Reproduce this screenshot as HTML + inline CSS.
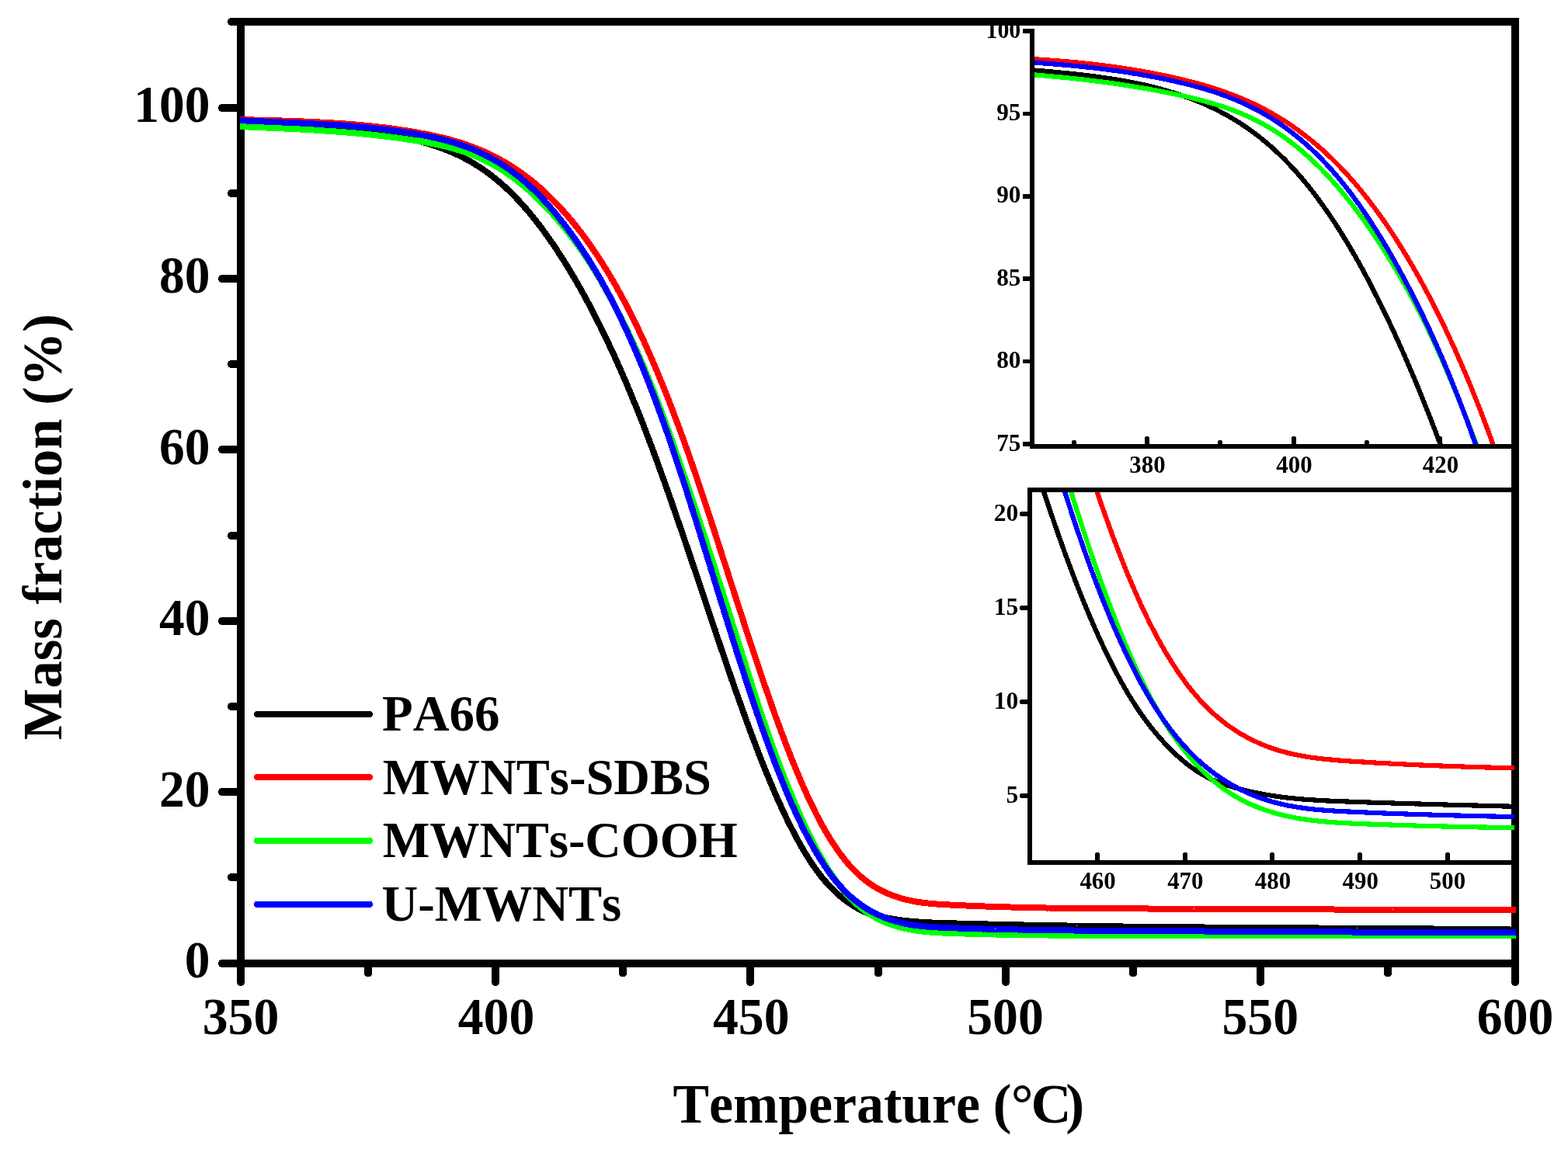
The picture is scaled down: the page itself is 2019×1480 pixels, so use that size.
<!DOCTYPE html>
<html lang="en"><head><meta charset="utf-8"><title>TGA curves: mass fraction vs temperature</title>
<style>html,body{margin:0;padding:0;background:#fff;}body{width:2019px;height:1480px;}svg{display:block;}text{font-family:"Liberation Serif","Noto Serif CJK SC",serif;font-weight:bold;fill:#000;font-kerning:none;}</style></head><body>
<svg width="2019" height="1480" viewBox="0 0 2019 1480">
<rect x="0" y="0" width="2019" height="1480" fill="#ffffff"/>
<defs>
<clipPath id="cm"><rect x="309" y="33" width="1643" height="1203"/></clipPath>
<clipPath id="c1"><rect x="1332" y="33" width="618" height="539"/></clipPath>
<clipPath id="c2"><rect x="1329" y="634" width="621" height="474"/></clipPath>
</defs>
<g id="main-frame" stroke="#000" stroke-width="10" fill="none" stroke-linecap="round" shape-rendering="crispEdges">
<path d="M310 28 V1265"/>
<path d="M1951 28 V1265"/>
<path d="M286 1241 H1951"/>
<path d="M298 28 H1951"/>
<path d="M310 139 H286 M310 359 H286 M310 579 H286 M310 800 H286 M310 1020 H286 M310 249 H298 M310 469 H298 M310 690 H298 M310 910 H298 M310 1130 H298 M638 1241 V1265 M966 1241 V1265 M1295 1241 V1265 M1623 1241 V1265 M474 1241 V1253.6 M802 1241 V1253.6 M1131 1241 V1253.6 M1459 1241 V1253.6 M1787 1241 V1253.6"/>
</g>
<rect x="1946" y="23" width="10" height="10" fill="#000" shape-rendering="crispEdges"/>
<g id="main-curves" fill="none" stroke-width="8" stroke-linejoin="round" clip-path="url(#cm)" shape-rendering="crispEdges">
<polyline stroke="#000000" points="306.7,155.3 310,155.8 313.3,156.3 316.6,156.7 319.8,157.2 323.1,157.6 326.4,158 329.7,158.4 333,158.8 336.3,159.1 339.5,159.5 342.8,159.8 346.1,160.1 349.4,160.4 352.7,160.7 355.9,161 359.2,161.3 362.5,161.6 365.8,161.8 369.1,162.1 372.4,162.3 375.6,162.6 378.9,162.8 382.2,163 385.5,163.2 388.8,163.5 392.1,163.7 395.3,163.9 398.6,164.1 401.9,164.3 405.2,164.5 408.5,164.8 411.7,165 415,165.2 418.3,165.4 421.6,165.6 424.9,165.9 428.2,166.1 431.4,166.3 434.7,166.6 438,166.8 441.3,167.1 444.6,167.3 447.8,167.6 451.1,167.9 454.4,168.2 457.7,168.5 461,168.8 464.3,169.1 467.5,169.5 470.8,169.8 474.1,170.2 477.4,170.6 480.7,171 483.9,171.4 487.2,171.8 490.5,172.3 493.8,172.7 497.1,173.2 500.4,173.8 503.6,174.3 506.9,174.8 510.2,175.4 513.5,176 516.8,176.7 520,177.3 523.3,178 526.6,178.7 529.9,179.5 533.2,180.2 536.5,181 539.7,181.9 543,182.7 546.3,183.6 549.6,184.6 552.9,185.5 556.1,186.5 559.4,187.6 562.7,188.7 566,189.8 569.3,191 572.6,192.3 575.8,193.6 579.1,194.9 582.4,196.3 585.7,197.8 589,199.3 592.3,200.9 595.5,202.5 598.8,204.2 602.1,206 605.4,207.8 608.7,209.7 611.9,211.7 615.2,213.8 618.5,215.9 621.8,218.1 625.1,220.4 628.4,222.8 631.6,225.2 634.9,227.8 638.2,230.4 641.5,233.1 644.8,235.9 648,238.8 651.3,241.8 654.6,244.9 657.9,248.1 661.2,251.4 664.5,254.8 667.7,258.2 671,261.8 674.3,265.5 677.6,269.2 680.9,273.1 684.1,277 687.4,281.1 690.7,285.2 694,289.5 697.3,293.8 700.6,298.3 703.8,302.8 707.1,307.4 710.4,312.1 713.7,316.9 717,321.9 720.2,326.9 723.5,332 726.8,337.2 730.1,342.5 733.4,347.9 736.7,353.4 739.9,358.9 743.2,364.6 746.5,370.4 749.8,376.3 753.1,382.2 756.4,388.3 759.6,394.5 762.9,400.7 766.2,407.1 769.5,413.6 772.8,420.1 776,426.8 779.3,433.6 782.6,440.5 785.9,447.4 789.2,454.5 792.5,461.7 795.7,469 799,476.4 802.3,483.9 805.6,491.5 808.9,499.3 812.1,507.1 815.4,515.1 818.7,523.1 822,531.3 825.3,539.6 828.6,548 831.8,556.5 835.1,565.1 838.4,573.8 841.7,582.6 845,591.5 848.2,600.5 851.5,609.5 854.8,618.7 858.1,627.9 861.4,637.2 864.7,646.5 867.9,656 871.2,665.4 874.5,674.9 877.8,684.5 881.1,694.1 884.4,703.8 887.6,713.4 890.9,723.2 894.2,732.9 897.5,742.6 900.8,752.4 904,762.2 907.3,772 910.6,781.8 913.9,791.5 917.2,801.3 920.5,811.1 923.7,820.8 927,830.5 930.3,840.2 933.6,849.8 936.9,859.4 940.1,868.9 943.4,878.4 946.7,887.8 950,897.1 953.3,906.4 956.6,915.5 959.8,924.6 963.1,933.6 966.4,942.5 969.7,951.3 973,959.9 976.2,968.5 979.5,976.9 982.8,985.2 986.1,993.4 989.4,1001.4 992.7,1009.3 995.9,1017 999.2,1024.5 1002.5,1031.9 1005.8,1039.1 1009.1,1046.2 1012.3,1053.1 1015.6,1059.8 1018.9,1066.3 1022.2,1072.7 1025.5,1078.9 1028.8,1084.9 1032,1090.7 1035.3,1096.3 1038.6,1101.7 1041.9,1106.9 1045.2,1112 1048.5,1116.8 1051.7,1121.4 1055,1125.8 1058.3,1130 1061.6,1133.9 1064.9,1137.7 1068.1,1141.3 1071.4,1144.7 1074.7,1147.9 1078,1151 1081.3,1153.8 1084.6,1156.6 1087.8,1159.2 1091.1,1161.6 1094.4,1163.9 1097.7,1166.1 1101,1168.1 1104.2,1170 1107.5,1171.7 1110.8,1173.3 1114.1,1174.7 1117.4,1176 1120.7,1177.1 1123.9,1178.1 1127.2,1179 1130.5,1179.8 1133.8,1180.6 1137.1,1181.3 1140.3,1182 1143.6,1182.7 1146.9,1183.3 1150.2,1183.8 1153.5,1184.4 1156.8,1184.8 1160,1185.3 1163.3,1185.7 1166.6,1186.1 1169.9,1186.4 1173.2,1186.7 1176.4,1187 1179.7,1187.3 1183,1187.5 1186.3,1187.8 1189.6,1188 1192.9,1188.1 1196.1,1188.3 1199.4,1188.5 1202.7,1188.6 1206,1188.7 1209.3,1188.8 1212.5,1188.9 1215.8,1189 1219.1,1189.1 1222.4,1189.2 1225.7,1189.3 1229,1189.4 1232.2,1189.5 1235.5,1189.6 1238.8,1189.7 1242.1,1189.7 1245.4,1189.8 1248.7,1189.9 1251.9,1190 1255.2,1190.1 1258.5,1190.2 1261.8,1190.2 1265.1,1190.3 1268.3,1190.4 1271.6,1190.5 1274.9,1190.5 1278.2,1190.6 1281.5,1190.7 1284.8,1190.8 1288,1190.8 1291.3,1190.9 1294.6,1191 1297.9,1191.1 1301.2,1191.1 1304.4,1191.2 1307.7,1191.3 1311,1191.3 1314.3,1191.4 1317.6,1191.5 1320.9,1191.5 1324.1,1191.6 1327.4,1191.7 1330.7,1191.7 1334,1191.8 1337.3,1191.8 1340.5,1191.9 1343.8,1192 1347.1,1192 1350.4,1192.1 1353.7,1192.1 1357,1192.2 1360.2,1192.2 1363.5,1192.3 1366.8,1192.3 1370.1,1192.4 1373.4,1192.5 1376.7,1192.5 1379.9,1192.6 1383.2,1192.6 1386.5,1192.7 1389.8,1192.7 1393.1,1192.8 1396.3,1192.8 1399.6,1192.8 1402.9,1192.9 1406.2,1192.9 1409.5,1193 1412.8,1193 1416,1193.1 1419.3,1193.1 1422.6,1193.2 1425.9,1193.2 1429.2,1193.2 1432.4,1193.3 1435.7,1193.3 1439,1193.4 1442.3,1193.4 1445.6,1193.5 1448.9,1193.5 1452.1,1193.5 1455.4,1193.6 1458.7,1193.6 1462,1193.6 1465.3,1193.7 1468.5,1193.7 1471.8,1193.7 1475.1,1193.8 1478.4,1193.8 1481.7,1193.9 1485,1193.9 1488.2,1193.9 1491.5,1194 1494.8,1194 1498.1,1194 1501.4,1194 1504.6,1194.1 1507.9,1194.1 1511.2,1194.1 1514.5,1194.2 1517.8,1194.2 1521.1,1194.2 1524.3,1194.3 1527.6,1194.3 1530.9,1194.3 1534.2,1194.3 1537.5,1194.4 1540.8,1194.4 1544,1194.4 1547.3,1194.4 1550.6,1194.5 1553.9,1194.5 1557.2,1194.5 1560.4,1194.6 1563.7,1194.6 1567,1194.6 1570.3,1194.6 1573.6,1194.7 1576.9,1194.7 1580.1,1194.7 1583.4,1194.7 1586.7,1194.7 1590,1194.8 1593.3,1194.8 1596.5,1194.8 1599.8,1194.8 1603.1,1194.9 1606.4,1194.9 1609.7,1194.9 1613,1194.9 1616.2,1194.9 1619.5,1195 1622.8,1195 1626.1,1195 1629.4,1195 1632.6,1195.1 1635.9,1195.1 1639.2,1195.1 1642.5,1195.1 1645.8,1195.1 1649.1,1195.2 1652.3,1195.2 1655.6,1195.2 1658.9,1195.2 1662.2,1195.2 1665.5,1195.3 1668.7,1195.3 1672,1195.3 1675.3,1195.3 1678.6,1195.3 1681.9,1195.4 1685.2,1195.4 1688.4,1195.4 1691.7,1195.4 1695,1195.4 1698.3,1195.5 1701.6,1195.5 1704.8,1195.5 1708.1,1195.5 1711.4,1195.5 1714.7,1195.6 1718,1195.6 1721.3,1195.6 1724.5,1195.6 1727.8,1195.6 1731.1,1195.7 1734.4,1195.7 1737.7,1195.7 1741,1195.7 1744.2,1195.7 1747.5,1195.8 1750.8,1195.8 1754.1,1195.8 1757.4,1195.8 1760.6,1195.8 1763.9,1195.9 1767.2,1195.9 1770.5,1195.9 1773.8,1195.9 1777.1,1195.9 1780.3,1196 1783.6,1196 1786.9,1196 1790.2,1196 1793.5,1196.1 1796.7,1196.1 1800,1196.1 1803.3,1196.1 1806.6,1196.2 1809.9,1196.2 1813.2,1196.2 1816.4,1196.2 1819.7,1196.3 1823,1196.3 1826.3,1196.3 1829.6,1196.3 1832.8,1196.4 1836.1,1196.4 1839.4,1196.4 1842.7,1196.4 1846,1196.5 1849.3,1196.5 1852.5,1196.5 1855.8,1196.5 1859.1,1196.6 1862.4,1196.6 1865.7,1196.6 1869,1196.7 1872.2,1196.7 1875.5,1196.7 1878.8,1196.8 1882.1,1196.8 1885.4,1196.8 1888.6,1196.9 1891.9,1196.9 1895.2,1196.9 1898.5,1196.9 1901.8,1197 1905.1,1197 1908.3,1197.1 1911.6,1197.1 1914.9,1197.1 1918.2,1197.2 1921.5,1197.2 1924.7,1197.2 1928,1197.3 1931.3,1197.3 1934.6,1197.3 1937.9,1197.4 1941.2,1197.4 1944.4,1197.5 1947.7,1197.5 1951,1197.6 1954.3,1197.6"/>
<polyline stroke="#ff0000" points="306.7,154 310,154 313.3,154.1 316.6,154.2 319.8,154.3 323.1,154.4 326.4,154.5 329.7,154.6 333,154.7 336.3,154.8 339.5,154.9 342.8,155 346.1,155 349.4,155.1 352.7,155.2 355.9,155.3 359.2,155.4 362.5,155.5 365.8,155.6 369.1,155.7 372.4,155.9 375.6,156 378.9,156.1 382.2,156.2 385.5,156.3 388.8,156.4 392.1,156.6 395.3,156.7 398.6,156.9 401.9,157 405.2,157.2 408.5,157.3 411.7,157.5 415,157.6 418.3,157.8 421.6,158 424.9,158.2 428.2,158.4 431.4,158.6 434.7,158.8 438,159 441.3,159.3 444.6,159.5 447.8,159.7 451.1,160 454.4,160.3 457.7,160.5 461,160.8 464.3,161.1 467.5,161.4 470.8,161.7 474.1,162 477.4,162.4 480.7,162.7 483.9,163.1 487.2,163.4 490.5,163.8 493.8,164.2 497.1,164.6 500.4,165 503.6,165.4 506.9,165.9 510.2,166.3 513.5,166.8 516.8,167.3 520,167.8 523.3,168.3 526.6,168.8 529.9,169.4 533.2,169.9 536.5,170.5 539.7,171.1 543,171.7 546.3,172.3 549.6,172.9 552.9,173.6 556.1,174.3 559.4,175 562.7,175.7 566,176.5 569.3,177.3 572.6,178.1 575.8,178.9 579.1,179.8 582.4,180.7 585.7,181.6 589,182.6 592.3,183.6 595.5,184.7 598.8,185.8 602.1,186.9 605.4,188.1 608.7,189.3 611.9,190.6 615.2,191.9 618.5,193.2 621.8,194.6 625.1,196.1 628.4,197.6 631.6,199.2 634.9,200.8 638.2,202.4 641.5,204.2 644.8,206 648,207.8 651.3,209.7 654.6,211.7 657.9,213.7 661.2,215.8 664.5,218 667.7,220.2 671,222.5 674.3,224.9 677.6,227.4 680.9,229.9 684.1,232.5 687.4,235.1 690.7,237.9 694,240.7 697.3,243.6 700.6,246.6 703.8,249.7 707.1,252.8 710.4,256.1 713.7,259.4 717,262.8 720.2,266.3 723.5,269.9 726.8,273.5 730.1,277.3 733.4,281.1 736.7,285.1 739.9,289.1 743.2,293.2 746.5,297.5 749.8,301.8 753.1,306.2 756.4,310.7 759.6,315.3 762.9,320 766.2,324.8 769.5,329.7 772.8,334.8 776,339.9 779.3,345.1 782.6,350.5 785.9,356 789.2,361.6 792.5,367.3 795.7,373.2 799,379.1 802.3,385.2 805.6,391.4 808.9,397.8 812.1,404.3 815.4,410.9 818.7,417.6 822,424.4 825.3,431.4 828.6,438.5 831.8,445.7 835.1,453.1 838.4,460.6 841.7,468.2 845,475.9 848.2,483.7 851.5,491.7 854.8,499.8 858.1,508.1 861.4,516.4 864.7,524.9 867.9,533.6 871.2,542.3 874.5,551.2 877.8,560.2 881.1,569.3 884.4,578.5 887.6,587.9 890.9,597.3 894.2,606.9 897.5,616.5 900.8,626.3 904,636.1 907.3,646 910.6,655.9 913.9,665.9 917.2,676 920.5,686.1 923.7,696.2 927,706.4 930.3,716.6 933.6,726.8 936.9,737 940.1,747.2 943.4,757.4 946.7,767.6 950,777.8 953.3,788 956.6,798.1 959.8,808.2 963.1,818.2 966.4,828.2 969.7,838.2 973,848.1 976.2,857.9 979.5,867.6 982.8,877.3 986.1,886.8 989.4,896.3 992.7,905.7 995.9,915 999.2,924.1 1002.5,933.1 1005.8,942 1009.1,950.8 1012.3,959.4 1015.6,967.9 1018.9,976.3 1022.2,984.4 1025.5,992.4 1028.8,1000.3 1032,1007.9 1035.3,1015.4 1038.6,1022.7 1041.9,1029.8 1045.2,1036.7 1048.5,1043.4 1051.7,1049.9 1055,1056.2 1058.3,1062.3 1061.6,1068.2 1064.9,1073.8 1068.1,1079.3 1071.4,1084.5 1074.7,1089.5 1078,1094.3 1081.3,1098.9 1084.6,1103.3 1087.8,1107.5 1091.1,1111.4 1094.4,1115.2 1097.7,1118.8 1101,1122.1 1104.2,1125.3 1107.5,1128.3 1110.8,1131.1 1114.1,1133.8 1117.4,1136.3 1120.7,1138.6 1123.9,1140.8 1127.2,1142.8 1130.5,1144.7 1133.8,1146.5 1137.1,1148.2 1140.3,1149.7 1143.6,1151.2 1146.9,1152.5 1150.2,1153.8 1153.5,1154.9 1156.8,1156 1160,1157 1163.3,1157.9 1166.6,1158.8 1169.9,1159.5 1173.2,1160.2 1176.4,1160.9 1179.7,1161.5 1183,1162 1186.3,1162.5 1189.6,1162.9 1192.9,1163.3 1196.1,1163.6 1199.4,1164 1202.7,1164.2 1206,1164.5 1209.3,1164.7 1212.5,1164.9 1215.8,1165.1 1219.1,1165.3 1222.4,1165.5 1225.7,1165.6 1229,1165.8 1232.2,1166 1235.5,1166.1 1238.8,1166.3 1242.1,1166.4 1245.4,1166.6 1248.7,1166.7 1251.9,1166.9 1255.2,1167 1258.5,1167.1 1261.8,1167.2 1265.1,1167.4 1268.3,1167.5 1271.6,1167.6 1274.9,1167.7 1278.2,1167.8 1281.5,1167.9 1284.8,1168 1288,1168.1 1291.3,1168.2 1294.6,1168.3 1297.9,1168.4 1301.2,1168.5 1304.4,1168.6 1307.7,1168.7 1311,1168.8 1314.3,1168.8 1317.6,1168.9 1320.9,1169 1324.1,1169.1 1327.4,1169.1 1330.7,1169.2 1334,1169.3 1337.3,1169.3 1340.5,1169.4 1343.8,1169.4 1347.1,1169.5 1350.4,1169.5 1353.7,1169.6 1357,1169.6 1360.2,1169.7 1363.5,1169.7 1366.8,1169.8 1370.1,1169.8 1373.4,1169.8 1376.7,1169.9 1379.9,1169.9 1383.2,1169.9 1386.5,1170 1389.8,1170 1393.1,1170 1396.3,1170.1 1399.6,1170.1 1402.9,1170.1 1406.2,1170.1 1409.5,1170.2 1412.8,1170.2 1416,1170.2 1419.3,1170.2 1422.6,1170.2 1425.9,1170.3 1429.2,1170.3 1432.4,1170.3 1435.7,1170.3 1439,1170.3 1442.3,1170.3 1445.6,1170.3 1448.9,1170.4 1452.1,1170.4 1455.4,1170.4 1458.7,1170.4 1462,1170.4 1465.3,1170.4 1468.5,1170.4 1471.8,1170.4 1475.1,1170.4 1478.4,1170.5 1481.7,1170.5 1485,1170.5 1488.2,1170.5 1491.5,1170.5 1494.8,1170.5 1498.1,1170.5 1501.4,1170.5 1504.6,1170.5 1507.9,1170.5 1511.2,1170.6 1514.5,1170.6 1517.8,1170.6 1521.1,1170.6 1524.3,1170.6 1527.6,1170.6 1530.9,1170.6 1534.2,1170.6 1537.5,1170.7 1540.8,1170.7 1544,1170.7 1547.3,1170.7 1550.6,1170.7 1553.9,1170.7 1557.2,1170.7 1560.4,1170.7 1563.7,1170.8 1567,1170.8 1570.3,1170.8 1573.6,1170.8 1576.9,1170.8 1580.1,1170.8 1583.4,1170.8 1586.7,1170.9 1590,1170.9 1593.3,1170.9 1596.5,1170.9 1599.8,1170.9 1603.1,1170.9 1606.4,1171 1609.7,1171 1613,1171 1616.2,1171 1619.5,1171 1622.8,1171 1626.1,1171 1629.4,1171.1 1632.6,1171.1 1635.9,1171.1 1639.2,1171.1 1642.5,1171.1 1645.8,1171.1 1649.1,1171.2 1652.3,1171.2 1655.6,1171.2 1658.9,1171.2 1662.2,1171.2 1665.5,1171.2 1668.7,1171.2 1672,1171.3 1675.3,1171.3 1678.6,1171.3 1681.9,1171.3 1685.2,1171.3 1688.4,1171.3 1691.7,1171.3 1695,1171.4 1698.3,1171.4 1701.6,1171.4 1704.8,1171.4 1708.1,1171.4 1711.4,1171.4 1714.7,1171.4 1718,1171.5 1721.3,1171.5 1724.5,1171.5 1727.8,1171.5 1731.1,1171.5 1734.4,1171.5 1737.7,1171.5 1741,1171.6 1744.2,1171.6 1747.5,1171.6 1750.8,1171.6 1754.1,1171.6 1757.4,1171.6 1760.6,1171.6 1763.9,1171.7 1767.2,1171.7 1770.5,1171.7 1773.8,1171.7 1777.1,1171.7 1780.3,1171.7 1783.6,1171.7 1786.9,1171.7 1790.2,1171.7 1793.5,1171.8 1796.7,1171.8 1800,1171.8 1803.3,1171.8 1806.6,1171.8 1809.9,1171.8 1813.2,1171.8 1816.4,1171.8 1819.7,1171.8 1823,1171.8 1826.3,1171.9 1829.6,1171.9 1832.8,1171.9 1836.1,1171.9 1839.4,1171.9 1842.7,1171.9 1846,1171.9 1849.3,1171.9 1852.5,1171.9 1855.8,1171.9 1859.1,1171.9 1862.4,1171.9 1865.7,1171.9 1869,1171.9 1872.2,1171.9 1875.5,1171.9 1878.8,1172 1882.1,1172 1885.4,1172 1888.6,1172 1891.9,1172 1895.2,1172 1898.5,1172 1901.8,1172 1905.1,1172 1908.3,1172 1911.6,1172 1914.9,1172 1918.2,1172 1921.5,1172 1924.7,1172 1928,1172 1931.3,1172 1934.6,1172 1937.9,1172 1941.2,1172 1944.4,1172 1947.7,1172 1951,1172 1954.3,1171.9"/>
<polyline stroke="#00ff00" points="306.7,162.9 310,163.1 313.3,163.2 316.6,163.3 319.8,163.5 323.1,163.6 326.4,163.8 329.7,163.9 333,164 336.3,164.2 339.5,164.3 342.8,164.5 346.1,164.6 349.4,164.7 352.7,164.9 355.9,165 359.2,165.2 362.5,165.3 365.8,165.5 369.1,165.7 372.4,165.8 375.6,166 378.9,166.1 382.2,166.3 385.5,166.5 388.8,166.7 392.1,166.8 395.3,167 398.6,167.2 401.9,167.4 405.2,167.6 408.5,167.8 411.7,168 415,168.2 418.3,168.5 421.6,168.7 424.9,168.9 428.2,169.1 431.4,169.4 434.7,169.6 438,169.9 441.3,170.1 444.6,170.4 447.8,170.7 451.1,171 454.4,171.2 457.7,171.5 461,171.8 464.3,172.2 467.5,172.5 470.8,172.8 474.1,173.1 477.4,173.5 480.7,173.8 483.9,174.2 487.2,174.6 490.5,174.9 493.8,175.3 497.1,175.7 500.4,176.1 503.6,176.6 506.9,177 510.2,177.4 513.5,177.9 516.8,178.3 520,178.8 523.3,179.3 526.6,179.8 529.9,180.3 533.2,180.8 536.5,181.3 539.7,181.8 543,182.4 546.3,183 549.6,183.6 552.9,184.2 556.1,184.8 559.4,185.4 562.7,186.1 566,186.8 569.3,187.6 572.6,188.3 575.8,189.1 579.1,190 582.4,190.9 585.7,191.8 589,192.8 592.3,193.8 595.5,194.8 598.8,196 602.1,197.1 605.4,198.3 608.7,199.6 611.9,200.9 615.2,202.3 618.5,203.8 621.8,205.3 625.1,206.9 628.4,208.6 631.6,210.3 634.9,212.1 638.2,214 641.5,215.9 644.8,217.9 648,220 651.3,222.2 654.6,224.5 657.9,226.8 661.2,229.2 664.5,231.7 667.7,234.2 671,236.9 674.3,239.6 677.6,242.4 680.9,245.2 684.1,248.2 687.4,251.2 690.7,254.3 694,257.5 697.3,260.7 700.6,264.1 703.8,267.5 707.1,271 710.4,274.6 713.7,278.2 717,282 720.2,285.8 723.5,289.7 726.8,293.7 730.1,297.7 733.4,301.9 736.7,306.1 739.9,310.5 743.2,314.9 746.5,319.4 749.8,324.1 753.1,328.8 756.4,333.7 759.6,338.8 762.9,343.9 766.2,349.2 769.5,354.6 772.8,360.2 776,365.8 779.3,371.6 782.6,377.4 785.9,383.4 789.2,389.5 792.5,395.6 795.7,401.9 799,408.3 802.3,414.7 805.6,421.4 808.9,428.1 812.1,435 815.4,442.1 818.7,449.3 822,456.6 825.3,464.2 828.6,471.8 831.8,479.6 835.1,487.6 838.4,495.7 841.7,504 845,512.4 848.2,520.9 851.5,529.6 854.8,538.4 858.1,547.4 861.4,556.4 864.7,565.6 867.9,574.9 871.2,584.3 874.5,593.8 877.8,603.3 881.1,612.9 884.4,622.6 887.6,632.3 890.9,642 894.2,651.8 897.5,661.6 900.8,671.5 904,681.4 907.3,691.4 910.6,701.4 913.9,711.5 917.2,721.6 920.5,731.7 923.7,741.9 927,752.2 930.3,762.4 933.6,772.7 936.9,783.1 940.1,793.5 943.4,803.9 946.7,814.3 950,824.7 953.3,835.2 956.6,845.6 959.8,856 963.1,866.4 966.4,876.8 969.7,887 973,897.2 976.2,907.3 979.5,917.2 982.8,927 986.1,936.6 989.4,946.1 992.7,955.4 995.9,964.5 999.2,973.4 1002.5,982.2 1005.8,990.8 1009.1,999.2 1012.3,1007.5 1015.6,1015.7 1018.9,1023.6 1022.2,1031.5 1025.5,1039.2 1028.8,1046.7 1032,1054 1035.3,1061.2 1038.6,1068.2 1041.9,1075 1045.2,1081.6 1048.5,1088.1 1051.7,1094.3 1055,1100.4 1058.3,1106.2 1061.6,1111.8 1064.9,1117.3 1068.1,1122.5 1071.4,1127.4 1074.7,1132.2 1078,1136.7 1081.3,1141 1084.6,1145.1 1087.8,1149 1091.1,1152.7 1094.4,1156.2 1097.7,1159.5 1101,1162.7 1104.2,1165.6 1107.5,1168.4 1110.8,1171 1114.1,1173.5 1117.4,1175.8 1120.7,1178 1123.9,1180 1127.2,1181.9 1130.5,1183.6 1133.8,1185.3 1137.1,1186.8 1140.3,1188.2 1143.6,1189.5 1146.9,1190.7 1150.2,1191.8 1153.5,1192.8 1156.8,1193.8 1160,1194.6 1163.3,1195.4 1166.6,1196.2 1169.9,1196.8 1173.2,1197.5 1176.4,1198 1179.7,1198.5 1183,1199 1186.3,1199.4 1189.6,1199.8 1192.9,1200.1 1196.1,1200.4 1199.4,1200.7 1202.7,1200.9 1206,1201.1 1209.3,1201.3 1212.5,1201.5 1215.8,1201.6 1219.1,1201.8 1222.4,1201.9 1225.7,1202 1229,1202.1 1232.2,1202.2 1235.5,1202.3 1238.8,1202.4 1242.1,1202.5 1245.4,1202.6 1248.7,1202.7 1251.9,1202.8 1255.2,1202.9 1258.5,1203 1261.8,1203.1 1265.1,1203.1 1268.3,1203.2 1271.6,1203.3 1274.9,1203.4 1278.2,1203.4 1281.5,1203.5 1284.8,1203.6 1288,1203.6 1291.3,1203.7 1294.6,1203.7 1297.9,1203.8 1301.2,1203.9 1304.4,1203.9 1307.7,1204 1311,1204 1314.3,1204.1 1317.6,1204.1 1320.9,1204.2 1324.1,1204.2 1327.4,1204.2 1330.7,1204.3 1334,1204.3 1337.3,1204.3 1340.5,1204.4 1343.8,1204.4 1347.1,1204.4 1350.4,1204.5 1353.7,1204.5 1357,1204.5 1360.2,1204.6 1363.5,1204.6 1366.8,1204.6 1370.1,1204.6 1373.4,1204.6 1376.7,1204.7 1379.9,1204.7 1383.2,1204.7 1386.5,1204.7 1389.8,1204.7 1393.1,1204.7 1396.3,1204.8 1399.6,1204.8 1402.9,1204.8 1406.2,1204.8 1409.5,1204.8 1412.8,1204.8 1416,1204.8 1419.3,1204.8 1422.6,1204.8 1425.9,1204.8 1429.2,1204.8 1432.4,1204.8 1435.7,1204.9 1439,1204.9 1442.3,1204.9 1445.6,1204.9 1448.9,1204.9 1452.1,1204.9 1455.4,1204.9 1458.7,1204.9 1462,1204.9 1465.3,1204.9 1468.5,1204.9 1471.8,1204.9 1475.1,1204.9 1478.4,1204.9 1481.7,1204.9 1485,1204.9 1488.2,1204.9 1491.5,1204.9 1494.8,1204.9 1498.1,1204.9 1501.4,1204.9 1504.6,1204.9 1507.9,1204.9 1511.2,1204.9 1514.5,1204.9 1517.8,1204.9 1521.1,1204.9 1524.3,1204.9 1527.6,1204.9 1530.9,1204.9 1534.2,1204.9 1537.5,1204.9 1540.8,1204.9 1544,1204.9 1547.3,1204.9 1550.6,1204.9 1553.9,1204.9 1557.2,1204.9 1560.4,1204.9 1563.7,1204.9 1567,1204.9 1570.3,1204.9 1573.6,1204.9 1576.9,1204.9 1580.1,1204.9 1583.4,1204.9 1586.7,1204.9 1590,1204.9 1593.3,1204.9 1596.5,1204.9 1599.8,1204.9 1603.1,1204.9 1606.4,1204.9 1609.7,1204.9 1613,1205 1616.2,1205 1619.5,1205 1622.8,1205 1626.1,1205 1629.4,1205 1632.6,1205 1635.9,1205 1639.2,1205 1642.5,1205 1645.8,1205 1649.1,1205 1652.3,1205 1655.6,1205 1658.9,1205 1662.2,1205 1665.5,1205 1668.7,1205 1672,1205 1675.3,1205 1678.6,1205 1681.9,1205 1685.2,1205 1688.4,1205 1691.7,1205 1695,1205 1698.3,1205 1701.6,1205 1704.8,1205 1708.1,1205 1711.4,1205 1714.7,1205 1718,1205.1 1721.3,1205.1 1724.5,1205.1 1727.8,1205.1 1731.1,1205.1 1734.4,1205.1 1737.7,1205.1 1741,1205.1 1744.2,1205.1 1747.5,1205.1 1750.8,1205.1 1754.1,1205.1 1757.4,1205.1 1760.6,1205.1 1763.9,1205.1 1767.2,1205.1 1770.5,1205.1 1773.8,1205.1 1777.1,1205.1 1780.3,1205.1 1783.6,1205.1 1786.9,1205.1 1790.2,1205.1 1793.5,1205.1 1796.7,1205.1 1800,1205.1 1803.3,1205.1 1806.6,1205.1 1809.9,1205.1 1813.2,1205.1 1816.4,1205.1 1819.7,1205.1 1823,1205.1 1826.3,1205.1 1829.6,1205.1 1832.8,1205.1 1836.1,1205.1 1839.4,1205.1 1842.7,1205.1 1846,1205.1 1849.3,1205.1 1852.5,1205.1 1855.8,1205.1 1859.1,1205.1 1862.4,1205.1 1865.7,1205.1 1869,1205.1 1872.2,1205.1 1875.5,1205.1 1878.8,1205.1 1882.1,1205.1 1885.4,1205.1 1888.6,1205.1 1891.9,1205.1 1895.2,1205.1 1898.5,1205.1 1901.8,1205.1 1905.1,1205.1 1908.3,1205.1 1911.6,1205.1 1914.9,1205.1 1918.2,1205.1 1921.5,1205.1 1924.7,1205.1 1928,1205.1 1931.3,1205.1 1934.6,1205.1 1937.9,1205.1 1941.2,1205.1 1944.4,1205.1 1947.7,1205.1 1951,1205 1954.3,1205"/>
<polyline stroke="#0000ff" points="306.7,154.9 310,155.1 313.3,155.3 316.6,155.5 319.8,155.6 323.1,155.8 326.4,155.9 329.7,156.1 333,156.2 336.3,156.4 339.5,156.5 342.8,156.7 346.1,156.8 349.4,156.9 352.7,157.1 355.9,157.2 359.2,157.4 362.5,157.5 365.8,157.6 369.1,157.8 372.4,157.9 375.6,158.1 378.9,158.2 382.2,158.3 385.5,158.5 388.8,158.6 392.1,158.8 395.3,159 398.6,159.1 401.9,159.3 405.2,159.5 408.5,159.6 411.7,159.8 415,160 418.3,160.2 421.6,160.4 424.9,160.6 428.2,160.8 431.4,161 434.7,161.2 438,161.4 441.3,161.6 444.6,161.9 447.8,162.1 451.1,162.4 454.4,162.7 457.7,162.9 461,163.2 464.3,163.5 467.5,163.8 470.8,164.1 474.1,164.4 477.4,164.8 480.7,165.1 483.9,165.4 487.2,165.8 490.5,166.2 493.8,166.6 497.1,167 500.4,167.4 503.6,167.8 506.9,168.2 510.2,168.7 513.5,169.2 516.8,169.6 520,170.1 523.3,170.6 526.6,171.1 529.9,171.7 533.2,172.2 536.5,172.8 539.7,173.4 543,174 546.3,174.6 549.6,175.3 552.9,175.9 556.1,176.6 559.4,177.3 562.7,178.1 566,178.8 569.3,179.6 572.6,180.5 575.8,181.4 579.1,182.3 582.4,183.2 585.7,184.2 589,185.2 592.3,186.3 595.5,187.4 598.8,188.6 602.1,189.8 605.4,191.1 608.7,192.4 611.9,193.8 615.2,195.3 618.5,196.7 621.8,198.3 625.1,199.9 628.4,201.6 631.6,203.3 634.9,205.2 638.2,207 641.5,209 644.8,211 648,213.1 651.3,215.3 654.6,217.5 657.9,219.9 661.2,222.3 664.5,224.8 667.7,227.3 671,230 674.3,232.8 677.6,235.6 680.9,238.5 684.1,241.6 687.4,244.7 690.7,247.9 694,251.2 697.3,254.6 700.6,258.1 703.8,261.7 707.1,265.4 710.4,269.2 713.7,273.1 717,277 720.2,281.1 723.5,285.2 726.8,289.5 730.1,293.8 733.4,298.2 736.7,302.7 739.9,307.3 743.2,312 746.5,316.8 749.8,321.7 753.1,326.7 756.4,331.8 759.6,337 762.9,342.4 766.2,347.8 769.5,353.4 772.8,359 776,364.9 779.3,370.8 782.6,376.9 785.9,383.1 789.2,389.4 792.5,395.9 795.7,402.5 799,409.3 802.3,416.2 805.6,423.2 808.9,430.3 812.1,437.6 815.4,445.1 818.7,452.7 822,460.4 825.3,468.2 828.6,476.2 831.8,484.4 835.1,492.7 838.4,501.1 841.7,509.7 845,518.4 848.2,527.3 851.5,536.3 854.8,545.4 858.1,554.7 861.4,564.2 864.7,573.8 867.9,583.5 871.2,593.3 874.5,603.2 877.8,613.2 881.1,623.3 884.4,633.5 887.6,643.8 890.9,654.1 894.2,664.5 897.5,675 900.8,685.5 904,696.1 907.3,706.6 910.6,717.2 913.9,727.8 917.2,738.5 920.5,749.1 923.7,759.7 927,770.3 930.3,780.9 933.6,791.4 936.9,801.9 940.1,812.4 943.4,822.8 946.7,833.2 950,843.5 953.3,853.7 956.6,863.8 959.8,873.9 963.1,883.9 966.4,893.8 969.7,903.6 973,913.3 976.2,922.9 979.5,932.3 982.8,941.7 986.1,950.9 989.4,959.9 992.7,968.8 995.9,977.6 999.2,986.2 1002.5,994.7 1005.8,1002.9 1009.1,1011.1 1012.3,1019 1015.6,1026.7 1018.9,1034.3 1022.2,1041.6 1025.5,1048.8 1028.8,1055.8 1032,1062.6 1035.3,1069.2 1038.6,1075.6 1041.9,1081.8 1045.2,1087.8 1048.5,1093.7 1051.7,1099.3 1055,1104.7 1058.3,1109.9 1061.6,1115 1064.9,1119.8 1068.1,1124.4 1071.4,1128.8 1074.7,1133 1078,1137 1081.3,1140.7 1084.6,1144.3 1087.8,1147.8 1091.1,1151 1094.4,1154.1 1097.7,1157 1101,1159.7 1104.2,1162.3 1107.5,1164.7 1110.8,1167 1114.1,1169.2 1117.4,1171.3 1120.7,1173.2 1123.9,1175 1127.2,1176.7 1130.5,1178.2 1133.8,1179.7 1137.1,1181.1 1140.3,1182.4 1143.6,1183.6 1146.9,1184.8 1150.2,1185.8 1153.5,1186.8 1156.8,1187.7 1160,1188.5 1163.3,1189.2 1166.6,1189.9 1169.9,1190.6 1173.2,1191.1 1176.4,1191.6 1179.7,1192.1 1183,1192.5 1186.3,1192.9 1189.6,1193.2 1192.9,1193.5 1196.1,1193.8 1199.4,1194 1202.7,1194.2 1206,1194.4 1209.3,1194.6 1212.5,1194.7 1215.8,1194.9 1219.1,1195 1222.4,1195.1 1225.7,1195.2 1229,1195.4 1232.2,1195.5 1235.5,1195.6 1238.8,1195.7 1242.1,1195.8 1245.4,1195.9 1248.7,1196 1251.9,1196.1 1255.2,1196.2 1258.5,1196.3 1261.8,1196.4 1265.1,1196.5 1268.3,1196.5 1271.6,1196.6 1274.9,1196.7 1278.2,1196.8 1281.5,1196.9 1284.8,1196.9 1288,1197 1291.3,1197.1 1294.6,1197.2 1297.9,1197.2 1301.2,1197.3 1304.4,1197.4 1307.7,1197.4 1311,1197.5 1314.3,1197.5 1317.6,1197.6 1320.9,1197.7 1324.1,1197.7 1327.4,1197.8 1330.7,1197.8 1334,1197.9 1337.3,1197.9 1340.5,1198 1343.8,1198 1347.1,1198.1 1350.4,1198.1 1353.7,1198.1 1357,1198.2 1360.2,1198.2 1363.5,1198.3 1366.8,1198.3 1370.1,1198.3 1373.4,1198.4 1376.7,1198.4 1379.9,1198.4 1383.2,1198.5 1386.5,1198.5 1389.8,1198.5 1393.1,1198.6 1396.3,1198.6 1399.6,1198.6 1402.9,1198.6 1406.2,1198.7 1409.5,1198.7 1412.8,1198.7 1416,1198.7 1419.3,1198.8 1422.6,1198.8 1425.9,1198.8 1429.2,1198.8 1432.4,1198.8 1435.7,1198.9 1439,1198.9 1442.3,1198.9 1445.6,1198.9 1448.9,1198.9 1452.1,1199 1455.4,1199 1458.7,1199 1462,1199 1465.3,1199 1468.5,1199 1471.8,1199.1 1475.1,1199.1 1478.4,1199.1 1481.7,1199.1 1485,1199.1 1488.2,1199.1 1491.5,1199.2 1494.8,1199.2 1498.1,1199.2 1501.4,1199.2 1504.6,1199.2 1507.9,1199.2 1511.2,1199.3 1514.5,1199.3 1517.8,1199.3 1521.1,1199.3 1524.3,1199.3 1527.6,1199.3 1530.9,1199.4 1534.2,1199.4 1537.5,1199.4 1540.8,1199.4 1544,1199.4 1547.3,1199.4 1550.6,1199.5 1553.9,1199.5 1557.2,1199.5 1560.4,1199.5 1563.7,1199.5 1567,1199.6 1570.3,1199.6 1573.6,1199.6 1576.9,1199.6 1580.1,1199.6 1583.4,1199.6 1586.7,1199.7 1590,1199.7 1593.3,1199.7 1596.5,1199.7 1599.8,1199.7 1603.1,1199.8 1606.4,1199.8 1609.7,1199.8 1613,1199.8 1616.2,1199.8 1619.5,1199.8 1622.8,1199.9 1626.1,1199.9 1629.4,1199.9 1632.6,1199.9 1635.9,1199.9 1639.2,1199.9 1642.5,1200 1645.8,1200 1649.1,1200 1652.3,1200 1655.6,1200 1658.9,1200.1 1662.2,1200.1 1665.5,1200.1 1668.7,1200.1 1672,1200.1 1675.3,1200.1 1678.6,1200.2 1681.9,1200.2 1685.2,1200.2 1688.4,1200.2 1691.7,1200.2 1695,1200.2 1698.3,1200.3 1701.6,1200.3 1704.8,1200.3 1708.1,1200.3 1711.4,1200.3 1714.7,1200.3 1718,1200.4 1721.3,1200.4 1724.5,1200.4 1727.8,1200.4 1731.1,1200.4 1734.4,1200.4 1737.7,1200.4 1741,1200.5 1744.2,1200.5 1747.5,1200.5 1750.8,1200.5 1754.1,1200.5 1757.4,1200.5 1760.6,1200.5 1763.9,1200.6 1767.2,1200.6 1770.5,1200.6 1773.8,1200.6 1777.1,1200.6 1780.3,1200.6 1783.6,1200.6 1786.9,1200.7 1790.2,1200.7 1793.5,1200.7 1796.7,1200.7 1800,1200.7 1803.3,1200.7 1806.6,1200.7 1809.9,1200.7 1813.2,1200.8 1816.4,1200.8 1819.7,1200.8 1823,1200.8 1826.3,1200.8 1829.6,1200.8 1832.8,1200.8 1836.1,1200.8 1839.4,1200.9 1842.7,1200.9 1846,1200.9 1849.3,1200.9 1852.5,1200.9 1855.8,1200.9 1859.1,1200.9 1862.4,1200.9 1865.7,1200.9 1869,1200.9 1872.2,1200.9 1875.5,1201 1878.8,1201 1882.1,1201 1885.4,1201 1888.6,1201 1891.9,1201 1895.2,1201 1898.5,1201 1901.8,1201 1905.1,1201 1908.3,1201 1911.6,1201 1914.9,1201 1918.2,1201 1921.5,1201 1924.7,1201 1928,1201.1 1931.3,1201.1 1934.6,1201.1 1937.9,1201.1 1941.2,1201.1 1944.4,1201.1 1947.7,1201.1 1951,1201.1 1954.3,1201.1"/>
</g>
<g id="inset1-axes" stroke="#000" fill="none" shape-rendering="crispEdges">
<path stroke-width="6" d="M1329 37 V578"/>
<path stroke-width="6" d="M1326 575 H1946"/>
<rect x="1317" y="569" width="12" height="6" fill="#000" stroke="none"/>
<rect x="1317" y="463" width="12" height="5" fill="#000" stroke="none"/>
<rect x="1317" y="356" width="12" height="6" fill="#000" stroke="none"/>
<rect x="1317" y="250" width="12" height="6" fill="#000" stroke="none"/>
<rect x="1317" y="144" width="12" height="5" fill="#000" stroke="none"/>
<rect x="1317" y="37" width="12" height="6" fill="#000" stroke="none"/>
<path stroke-width="6" stroke-linecap="round" d="M1477 575 V564.8 M1666 575 V564.8 M1854 575 V564.8 M1383 575 V569.6 M1571 575 V569.6 M1760 575 V569.6"/>
</g>
<g id="inset1-curves" fill="none" stroke-width="6.2" stroke-linejoin="round" clip-path="url(#c1)" shape-rendering="crispEdges">
<polyline stroke="#000000" points="1326.2,90 1328.5,90.2 1330.9,90.4 1333.2,90.6 1335.6,90.8 1337.9,91 1340.3,91.2 1342.7,91.4 1345,91.6 1347.4,91.9 1349.7,92.1 1352.1,92.3 1354.4,92.5 1356.8,92.7 1359.2,92.9 1361.5,93.2 1363.9,93.4 1366.2,93.6 1368.6,93.8 1370.9,94.1 1373.3,94.3 1375.7,94.5 1378,94.8 1380.4,95 1382.7,95.3 1385.1,95.5 1387.4,95.8 1389.8,96.1 1392.2,96.3 1394.5,96.6 1396.9,96.9 1399.2,97.1 1401.6,97.4 1403.9,97.7 1406.3,98 1408.7,98.3 1411,98.6 1413.4,98.9 1415.7,99.2 1418.1,99.6 1420.4,99.9 1422.8,100.2 1425.1,100.6 1427.5,100.9 1429.9,101.3 1432.2,101.6 1434.6,102 1436.9,102.4 1439.3,102.8 1441.6,103.2 1444,103.6 1446.4,104 1448.7,104.4 1451.1,104.9 1453.4,105.3 1455.8,105.8 1458.1,106.2 1460.5,106.7 1462.9,107.2 1465.2,107.7 1467.6,108.2 1469.9,108.7 1472.3,109.2 1474.6,109.7 1477,110.3 1479.4,110.8 1481.7,111.4 1484.1,112 1486.4,112.6 1488.8,113.2 1491.1,113.8 1493.5,114.4 1495.9,115 1498.2,115.7 1500.6,116.4 1502.9,117 1505.3,117.7 1507.6,118.5 1510,119.2 1512.4,119.9 1514.7,120.7 1517.1,121.4 1519.4,122.2 1521.8,123 1524.1,123.8 1526.5,124.6 1528.9,125.5 1531.2,126.3 1533.6,127.2 1535.9,128.1 1538.3,129 1540.6,129.9 1543,130.9 1545.3,131.9 1547.7,132.8 1550.1,133.8 1552.4,134.9 1554.8,135.9 1557.1,137 1559.5,138.1 1561.8,139.2 1564.2,140.3 1566.6,141.5 1568.9,142.7 1571.3,143.9 1573.6,145.1 1576,146.4 1578.3,147.7 1580.7,149 1583.1,150.3 1585.4,151.7 1587.8,153.1 1590.1,154.5 1592.5,156 1594.8,157.4 1597.2,158.9 1599.6,160.5 1601.9,162.1 1604.3,163.7 1606.6,165.3 1609,166.9 1611.3,168.6 1613.7,170.4 1616.1,172.1 1618.4,173.9 1620.8,175.7 1623.1,177.6 1625.5,179.5 1627.8,181.4 1630.2,183.4 1632.6,185.4 1634.9,187.4 1637.3,189.5 1639.6,191.6 1642,193.8 1644.3,196 1646.7,198.2 1649.1,200.5 1651.4,202.8 1653.8,205.1 1656.1,207.5 1658.5,209.9 1660.8,212.4 1663.2,214.9 1665.5,217.5 1667.9,220.1 1670.3,222.7 1672.6,225.4 1675,228.1 1677.3,230.9 1679.7,233.7 1682,236.6 1684.4,239.5 1686.8,242.5 1689.1,245.5 1691.5,248.5 1693.8,251.6 1696.2,254.8 1698.5,258 1700.9,261.2 1703.3,264.5 1705.6,267.8 1708,271.2 1710.3,274.6 1712.7,278.1 1715,281.6 1717.4,285.1 1719.8,288.7 1722.1,292.4 1724.5,296.1 1726.8,299.8 1729.2,303.6 1731.5,307.5 1733.9,311.4 1736.3,315.3 1738.6,319.3 1741,323.3 1743.3,327.4 1745.7,331.5 1748,335.6 1750.4,339.8 1752.8,344.1 1755.1,348.4 1757.5,352.7 1759.8,357.1 1762.2,361.6 1764.5,366.1 1766.9,370.6 1769.3,375.2 1771.6,379.8 1774,384.5 1776.3,389.2 1778.7,393.9 1781,398.8 1783.4,403.6 1785.8,408.5 1788.1,413.5 1790.5,418.5 1792.8,423.5 1795.2,428.6 1797.5,433.7 1799.9,438.9 1802.2,444.1 1804.6,449.4 1807,454.7 1809.3,460.1 1811.7,465.5 1814,471 1816.4,476.5 1818.7,482 1821.1,487.6 1823.5,493.3 1825.8,498.9 1828.2,504.7 1830.5,510.5 1832.9,516.3 1835.2,522.2 1837.6,528.1 1840,534.1 1842.3,540.1 1844.7,546.2 1847,552.3 1849.4,558.5 1851.7,564.7 1854.1,570.9 1856.5,577.2 1858.8,583.6 1861.2,590 1863.5,596.5 1865.9,603 1868.2,609.5 1870.6,616.2 1873,622.8 1875.3,629.5 1877.7,636.3 1880,643.1 1882.4,650 1884.7,656.9 1887.1,663.8 1889.5,670.9 1891.8,677.9 1894.2,685 1896.5,692.2 1898.9,699.4 1901.2,706.7 1903.6,714 1906,721.4 1908.3,728.8 1910.7,736.3 1913,743.9 1915.4,751.4 1917.7,759.1 1920.1,766.8 1922.4,774.5 1924.8,782.3 1927.2,790.2 1929.5,798.1 1931.9,806.1 1934.2,814.1 1936.6,822.2 1938.9,830.3 1941.3,838.5 1943.7,846.7 1946,855 1948.4,863.3 1950.7,871.7 1953.1,880.1 1955.4,888.6 1957.8,897.1"/>
<polyline stroke="#ff0000" points="1326.2,75.8 1328.5,76 1330.9,76.1 1333.2,76.3 1335.6,76.4 1337.9,76.6 1340.3,76.7 1342.7,76.9 1345,77.1 1347.4,77.2 1349.7,77.4 1352.1,77.6 1354.4,77.8 1356.8,77.9 1359.2,78.1 1361.5,78.3 1363.9,78.5 1366.2,78.7 1368.6,78.9 1370.9,79.1 1373.3,79.3 1375.7,79.5 1378,79.7 1380.4,80 1382.7,80.2 1385.1,80.4 1387.4,80.6 1389.8,80.9 1392.2,81.1 1394.5,81.3 1396.9,81.6 1399.2,81.8 1401.6,82.1 1403.9,82.4 1406.3,82.6 1408.7,82.9 1411,83.2 1413.4,83.4 1415.7,83.7 1418.1,84 1420.4,84.3 1422.8,84.6 1425.1,84.9 1427.5,85.2 1429.9,85.5 1432.2,85.9 1434.6,86.2 1436.9,86.5 1439.3,86.8 1441.6,87.2 1444,87.5 1446.4,87.9 1448.7,88.2 1451.1,88.6 1453.4,89 1455.8,89.3 1458.1,89.7 1460.5,90.1 1462.9,90.5 1465.2,90.9 1467.6,91.3 1469.9,91.7 1472.3,92.1 1474.6,92.6 1477,93 1479.4,93.4 1481.7,93.9 1484.1,94.3 1486.4,94.8 1488.8,95.2 1491.1,95.7 1493.5,96.2 1495.9,96.6 1498.2,97.1 1500.6,97.6 1502.9,98.1 1505.3,98.6 1507.6,99.2 1510,99.7 1512.4,100.2 1514.7,100.8 1517.1,101.3 1519.4,101.9 1521.8,102.4 1524.1,103 1526.5,103.6 1528.9,104.1 1531.2,104.7 1533.6,105.3 1535.9,106 1538.3,106.6 1540.6,107.2 1543,107.8 1545.3,108.5 1547.7,109.2 1550.1,109.8 1552.4,110.5 1554.8,111.2 1557.1,111.9 1559.5,112.7 1561.8,113.4 1564.2,114.1 1566.6,114.9 1568.9,115.7 1571.3,116.5 1573.6,117.3 1576,118.1 1578.3,118.9 1580.7,119.8 1583.1,120.7 1585.4,121.5 1587.8,122.4 1590.1,123.4 1592.5,124.3 1594.8,125.2 1597.2,126.2 1599.6,127.2 1601.9,128.2 1604.3,129.2 1606.6,130.3 1609,131.3 1611.3,132.4 1613.7,133.5 1616.1,134.6 1618.4,135.8 1620.8,137 1623.1,138.1 1625.5,139.3 1627.8,140.6 1630.2,141.8 1632.6,143.1 1634.9,144.4 1637.3,145.7 1639.6,147.1 1642,148.4 1644.3,149.8 1646.7,151.3 1649.1,152.7 1651.4,154.2 1653.8,155.7 1656.1,157.2 1658.5,158.7 1660.8,160.3 1663.2,161.9 1665.5,163.5 1667.9,165.2 1670.3,166.9 1672.6,168.6 1675,170.3 1677.3,172.1 1679.7,173.9 1682,175.7 1684.4,177.6 1686.8,179.5 1689.1,181.4 1691.5,183.3 1693.8,185.3 1696.2,187.3 1698.5,189.3 1700.9,191.4 1703.3,193.5 1705.6,195.7 1708,197.8 1710.3,200.1 1712.7,202.3 1715,204.6 1717.4,206.9 1719.8,209.2 1722.1,211.6 1724.5,214 1726.8,216.5 1729.2,218.9 1731.5,221.5 1733.9,224 1736.3,226.6 1738.6,229.3 1741,231.9 1743.3,234.6 1745.7,237.4 1748,240.2 1750.4,243 1752.8,245.9 1755.1,248.8 1757.5,251.7 1759.8,254.7 1762.2,257.7 1764.5,260.8 1766.9,263.9 1769.3,267 1771.6,270.2 1774,273.4 1776.3,276.7 1778.7,280 1781,283.3 1783.4,286.7 1785.8,290.2 1788.1,293.6 1790.5,297.2 1792.8,300.7 1795.2,304.3 1797.5,308 1799.9,311.7 1802.2,315.4 1804.6,319.2 1807,323 1809.3,326.9 1811.7,330.8 1814,334.7 1816.4,338.7 1818.7,342.8 1821.1,346.9 1823.5,351 1825.8,355.2 1828.2,359.4 1830.5,363.7 1832.9,368 1835.2,372.4 1837.6,376.8 1840,381.3 1842.3,385.8 1844.7,390.4 1847,395 1849.4,399.6 1851.7,404.4 1854.1,409.1 1856.5,414 1858.8,418.8 1861.2,423.8 1863.5,428.7 1865.9,433.8 1868.2,438.9 1870.6,444 1873,449.2 1875.3,454.5 1877.7,459.8 1880,465.2 1882.4,470.6 1884.7,476.1 1887.1,481.7 1889.5,487.3 1891.8,492.9 1894.2,498.7 1896.5,504.5 1898.9,510.3 1901.2,516.2 1903.6,522.2 1906,528.2 1908.3,534.3 1910.7,540.5 1913,546.7 1915.4,553 1917.7,559.3 1920.1,565.7 1922.4,572.2 1924.8,578.7 1927.2,585.3 1929.5,591.9 1931.9,598.6 1934.2,605.3 1936.6,612.2 1938.9,619 1941.3,626 1943.7,633 1946,640 1948.4,647.2 1950.7,654.4 1953.1,661.6 1955.4,668.9 1957.8,676.3"/>
<polyline stroke="#00ff00" points="1326.2,95.9 1328.5,96.1 1330.9,96.3 1333.2,96.5 1335.6,96.7 1337.9,96.9 1340.3,97.1 1342.7,97.3 1345,97.5 1347.4,97.7 1349.7,97.9 1352.1,98.1 1354.4,98.4 1356.8,98.6 1359.2,98.8 1361.5,99 1363.9,99.3 1366.2,99.5 1368.6,99.7 1370.9,100 1373.3,100.2 1375.7,100.4 1378,100.7 1380.4,100.9 1382.7,101.2 1385.1,101.4 1387.4,101.7 1389.8,102 1392.2,102.2 1394.5,102.5 1396.9,102.8 1399.2,103 1401.6,103.3 1403.9,103.6 1406.3,103.9 1408.7,104.2 1411,104.5 1413.4,104.8 1415.7,105.1 1418.1,105.4 1420.4,105.7 1422.8,106 1425.1,106.3 1427.5,106.6 1429.9,107 1432.2,107.3 1434.6,107.6 1436.9,108 1439.3,108.3 1441.6,108.6 1444,109 1446.4,109.4 1448.7,109.7 1451.1,110.1 1453.4,110.4 1455.8,110.8 1458.1,111.2 1460.5,111.6 1462.9,112 1465.2,112.4 1467.6,112.7 1469.9,113.1 1472.3,113.6 1474.6,114 1477,114.4 1479.4,114.8 1481.7,115.2 1484.1,115.7 1486.4,116.1 1488.8,116.5 1491.1,117 1493.5,117.4 1495.9,117.9 1498.2,118.3 1500.6,118.8 1502.9,119.3 1505.3,119.8 1507.6,120.2 1510,120.7 1512.4,121.2 1514.7,121.7 1517.1,122.2 1519.4,122.7 1521.8,123.3 1524.1,123.8 1526.5,124.3 1528.9,124.8 1531.2,125.4 1533.6,125.9 1535.9,126.5 1538.3,127.1 1540.6,127.6 1543,128.2 1545.3,128.8 1547.7,129.5 1550.1,130.1 1552.4,130.7 1554.8,131.4 1557.1,132 1559.5,132.7 1561.8,133.4 1564.2,134.1 1566.6,134.8 1568.9,135.6 1571.3,136.3 1573.6,137.1 1576,137.9 1578.3,138.7 1580.7,139.5 1583.1,140.3 1585.4,141.2 1587.8,142.1 1590.1,143 1592.5,143.9 1594.8,144.9 1597.2,145.8 1599.6,146.8 1601.9,147.8 1604.3,148.9 1606.6,149.9 1609,151 1611.3,152.1 1613.7,153.2 1616.1,154.4 1618.4,155.6 1620.8,156.8 1623.1,158.1 1625.5,159.3 1627.8,160.6 1630.2,162 1632.6,163.3 1634.9,164.7 1637.3,166.1 1639.6,167.6 1642,169.1 1644.3,170.6 1646.7,172.1 1649.1,173.7 1651.4,175.3 1653.8,177 1656.1,178.7 1658.5,180.4 1660.8,182.1 1663.2,183.9 1665.5,185.8 1667.9,187.6 1670.3,189.5 1672.6,191.5 1675,193.4 1677.3,195.4 1679.7,197.5 1682,199.6 1684.4,201.7 1686.8,203.8 1689.1,206 1691.5,208.2 1693.8,210.5 1696.2,212.8 1698.5,215.1 1700.9,217.5 1703.3,219.9 1705.6,222.4 1708,224.8 1710.3,227.4 1712.7,229.9 1715,232.5 1717.4,235.2 1719.8,237.8 1722.1,240.5 1724.5,243.3 1726.8,246.1 1729.2,248.9 1731.5,251.7 1733.9,254.6 1736.3,257.6 1738.6,260.5 1741,263.5 1743.3,266.6 1745.7,269.7 1748,272.8 1750.4,276 1752.8,279.2 1755.1,282.4 1757.5,285.7 1759.8,289 1762.2,292.4 1764.5,295.8 1766.9,299.2 1769.3,302.7 1771.6,306.2 1774,309.7 1776.3,313.3 1778.7,316.9 1781,320.6 1783.4,324.3 1785.8,328.1 1788.1,331.9 1790.5,335.7 1792.8,339.6 1795.2,343.5 1797.5,347.4 1799.9,351.4 1802.2,355.4 1804.6,359.5 1807,363.6 1809.3,367.8 1811.7,372 1814,376.2 1816.4,380.5 1818.7,384.9 1821.1,389.3 1823.5,393.7 1825.8,398.2 1828.2,402.8 1830.5,407.4 1832.9,412.1 1835.2,416.9 1837.6,421.7 1840,426.6 1842.3,431.5 1844.7,436.5 1847,441.6 1849.4,446.7 1851.7,451.9 1854.1,457.2 1856.5,462.5 1858.8,467.8 1861.2,473.3 1863.5,478.7 1865.9,484.3 1868.2,489.9 1870.6,495.5 1873,501.2 1875.3,506.9 1877.7,512.7 1880,518.5 1882.4,524.4 1884.7,530.3 1887.1,536.3 1889.5,542.3 1891.8,548.4 1894.2,554.5 1896.5,560.7 1898.9,566.9 1901.2,573.2 1903.6,579.6 1906,586 1908.3,592.5 1910.7,599 1913,605.6 1915.4,612.3 1917.7,619.1 1920.1,625.9 1922.4,632.8 1924.8,639.8 1927.2,646.9 1929.5,654 1931.9,661.3 1934.2,668.5 1936.6,675.9 1938.9,683.3 1941.3,690.9 1943.7,698.4 1946,706.1 1948.4,713.8 1950.7,721.6 1953.1,729.5 1955.4,737.4 1957.8,745.4"/>
<polyline stroke="#0000ff" points="1326.2,80.2 1328.5,80.4 1330.9,80.6 1333.2,80.7 1335.6,80.9 1337.9,81.1 1340.3,81.2 1342.7,81.4 1345,81.6 1347.4,81.8 1349.7,81.9 1352.1,82.1 1354.4,82.3 1356.8,82.5 1359.2,82.7 1361.5,82.9 1363.9,83.1 1366.2,83.3 1368.6,83.5 1370.9,83.7 1373.3,83.9 1375.7,84.1 1378,84.3 1380.4,84.6 1382.7,84.8 1385.1,85 1387.4,85.3 1389.8,85.5 1392.2,85.7 1394.5,86 1396.9,86.2 1399.2,86.5 1401.6,86.7 1403.9,87 1406.3,87.3 1408.7,87.5 1411,87.8 1413.4,88.1 1415.7,88.4 1418.1,88.6 1420.4,88.9 1422.8,89.2 1425.1,89.5 1427.5,89.8 1429.9,90.1 1432.2,90.5 1434.6,90.8 1436.9,91.1 1439.3,91.4 1441.6,91.8 1444,92.1 1446.4,92.5 1448.7,92.8 1451.1,93.2 1453.4,93.5 1455.8,93.9 1458.1,94.3 1460.5,94.7 1462.9,95.1 1465.2,95.4 1467.6,95.8 1469.9,96.3 1472.3,96.7 1474.6,97.1 1477,97.5 1479.4,97.9 1481.7,98.4 1484.1,98.8 1486.4,99.3 1488.8,99.7 1491.1,100.2 1493.5,100.7 1495.9,101.1 1498.2,101.6 1500.6,102.1 1502.9,102.6 1505.3,103.1 1507.6,103.6 1510,104.2 1512.4,104.7 1514.7,105.2 1517.1,105.8 1519.4,106.3 1521.8,106.9 1524.1,107.4 1526.5,108 1528.9,108.6 1531.2,109.2 1533.6,109.8 1535.9,110.4 1538.3,111 1540.6,111.7 1543,112.3 1545.3,113 1547.7,113.7 1550.1,114.3 1552.4,115 1554.8,115.8 1557.1,116.5 1559.5,117.2 1561.8,118 1564.2,118.7 1566.6,119.5 1568.9,120.3 1571.3,121.1 1573.6,122 1576,122.8 1578.3,123.7 1580.7,124.6 1583.1,125.5 1585.4,126.4 1587.8,127.4 1590.1,128.3 1592.5,129.3 1594.8,130.3 1597.2,131.4 1599.6,132.4 1601.9,133.5 1604.3,134.6 1606.6,135.7 1609,136.8 1611.3,138 1613.7,139.2 1616.1,140.4 1618.4,141.7 1620.8,142.9 1623.1,144.2 1625.5,145.5 1627.8,146.9 1630.2,148.2 1632.6,149.6 1634.9,151.1 1637.3,152.5 1639.6,154 1642,155.5 1644.3,157.1 1646.7,158.6 1649.1,160.2 1651.4,161.9 1653.8,163.5 1656.1,165.2 1658.5,167 1660.8,168.7 1663.2,170.5 1665.5,172.4 1667.9,174.2 1670.3,176.1 1672.6,178.1 1675,180 1677.3,182 1679.7,184.1 1682,186.2 1684.4,188.3 1686.8,190.4 1689.1,192.6 1691.5,194.9 1693.8,197.1 1696.2,199.4 1698.5,201.8 1700.9,204.2 1703.3,206.6 1705.6,209.1 1708,211.6 1710.3,214.1 1712.7,216.7 1715,219.3 1717.4,222 1719.8,224.8 1722.1,227.5 1724.5,230.3 1726.8,233.2 1729.2,236.1 1731.5,239 1733.9,242 1736.3,245.1 1738.6,248.1 1741,251.3 1743.3,254.4 1745.7,257.7 1748,260.9 1750.4,264.2 1752.8,267.6 1755.1,271 1757.5,274.4 1759.8,277.9 1762.2,281.5 1764.5,285 1766.9,288.7 1769.3,292.3 1771.6,296 1774,299.8 1776.3,303.6 1778.7,307.4 1781,311.3 1783.4,315.3 1785.8,319.2 1788.1,323.3 1790.5,327.3 1792.8,331.4 1795.2,335.6 1797.5,339.8 1799.9,344 1802.2,348.3 1804.6,352.7 1807,357 1809.3,361.5 1811.7,365.9 1814,370.4 1816.4,375 1818.7,379.6 1821.1,384.2 1823.5,388.9 1825.8,393.7 1828.2,398.5 1830.5,403.3 1832.9,408.2 1835.2,413.2 1837.6,418.2 1840,423.2 1842.3,428.3 1844.7,433.5 1847,438.7 1849.4,444 1851.7,449.3 1854.1,454.7 1856.5,460.2 1858.8,465.7 1861.2,471.3 1863.5,476.9 1865.9,482.6 1868.2,488.4 1870.6,494.2 1873,500.1 1875.3,506.1 1877.7,512.1 1880,518.2 1882.4,524.4 1884.7,530.6 1887.1,536.9 1889.5,543.2 1891.8,549.6 1894.2,556.1 1896.5,562.7 1898.9,569.3 1901.2,575.9 1903.6,582.7 1906,589.5 1908.3,596.4 1910.7,603.3 1913,610.3 1915.4,617.4 1917.7,624.5 1920.1,631.7 1922.4,639 1924.8,646.4 1927.2,653.8 1929.5,661.3 1931.9,668.8 1934.2,676.4 1936.6,684.1 1938.9,691.9 1941.3,699.7 1943.7,707.6 1946,715.5 1948.4,723.6 1950.7,731.7 1953.1,739.8 1955.4,748.1 1957.8,756.4"/>
</g>
<g id="inset2-curves" fill="none" stroke-width="6.2" stroke-linejoin="round" clip-path="url(#c2)" shape-rendering="crispEdges">
<polyline stroke="#000000" points="1317.2,548 1320,557.3 1322.8,566.5 1325.7,575.7 1328.5,584.7 1331.3,593.7 1334.1,602.6 1336.9,611.5 1339.7,620.2 1342.6,628.9 1345.4,637.5 1348.2,646 1351,654.4 1353.8,662.8 1356.7,671 1359.5,679.2 1362.3,687.3 1365.1,695.2 1367.9,703.1 1370.7,710.9 1373.6,718.6 1376.4,726.2 1379.2,733.8 1382,741.2 1384.8,748.5 1387.6,755.7 1390.5,762.9 1393.3,769.9 1396.1,776.8 1398.9,783.7 1401.7,790.4 1404.5,797 1407.4,803.6 1410.2,810 1413,816.3 1415.8,822.5 1418.6,828.6 1421.5,834.6 1424.3,840.5 1427.1,846.3 1429.9,852 1432.7,857.6 1435.5,863 1438.4,868.4 1441.2,873.6 1444,878.7 1446.8,883.7 1449.6,888.6 1452.4,893.4 1455.3,898 1458.1,902.6 1460.9,907 1463.7,911.3 1466.5,915.5 1469.3,919.6 1472.2,923.6 1475,927.5 1477.8,931.2 1480.6,934.9 1483.4,938.5 1486.3,942 1489.1,945.4 1491.9,948.7 1494.7,951.9 1497.5,955 1500.3,958.1 1503.2,961 1506,963.9 1508.8,966.7 1511.6,969.5 1514.4,972.1 1517.2,974.7 1520.1,977.2 1522.9,979.6 1525.7,981.9 1528.5,984.2 1531.3,986.3 1534.2,988.4 1537,990.4 1539.8,992.4 1542.6,994.2 1545.4,996 1548.2,997.7 1551.1,999.3 1553.9,1000.8 1556.7,1002.2 1559.5,1003.6 1562.3,1004.8 1565.1,1006 1568,1007.2 1570.8,1008.2 1573.6,1009.3 1576.4,1010.2 1579.2,1011.2 1582,1012.1 1584.9,1012.9 1587.7,1013.8 1590.5,1014.6 1593.3,1015.4 1596.1,1016.2 1599,1016.9 1601.8,1017.6 1604.6,1018.3 1607.4,1019 1610.2,1019.7 1613,1020.3 1615.9,1020.9 1618.7,1021.5 1621.5,1022 1624.3,1022.6 1627.1,1023.1 1629.9,1023.6 1632.8,1024.1 1635.6,1024.5 1638.4,1025 1641.2,1025.4 1644,1025.8 1646.9,1026.2 1649.7,1026.6 1652.5,1026.9 1655.3,1027.3 1658.1,1027.6 1660.9,1027.9 1663.8,1028.2 1666.6,1028.5 1669.4,1028.8 1672.2,1029 1675,1029.3 1677.8,1029.5 1680.7,1029.7 1683.5,1029.9 1686.3,1030.1 1689.1,1030.3 1691.9,1030.5 1694.8,1030.7 1697.6,1030.9 1700.4,1031 1703.2,1031.2 1706,1031.3 1708.8,1031.5 1711.7,1031.6 1714.5,1031.7 1717.3,1031.8 1720.1,1032 1722.9,1032.1 1725.7,1032.2 1728.6,1032.3 1731.4,1032.4 1734.2,1032.5 1737,1032.6 1739.8,1032.7 1742.6,1032.8 1745.5,1032.9 1748.3,1033 1751.1,1033.1 1753.9,1033.2 1756.7,1033.3 1759.6,1033.4 1762.4,1033.5 1765.2,1033.6 1768,1033.7 1770.8,1033.8 1773.6,1033.8 1776.5,1033.9 1779.3,1034 1782.1,1034.1 1784.9,1034.2 1787.7,1034.3 1790.5,1034.4 1793.4,1034.5 1796.2,1034.6 1799,1034.7 1801.8,1034.8 1804.6,1034.8 1807.5,1034.9 1810.3,1035 1813.1,1035.1 1815.9,1035.2 1818.7,1035.3 1821.5,1035.4 1824.4,1035.4 1827.2,1035.5 1830,1035.6 1832.8,1035.7 1835.6,1035.8 1838.4,1035.9 1841.3,1035.9 1844.1,1036 1846.9,1036.1 1849.7,1036.2 1852.5,1036.3 1855.3,1036.3 1858.2,1036.4 1861,1036.5 1863.8,1036.6 1866.6,1036.7 1869.4,1036.7 1872.3,1036.8 1875.1,1036.9 1877.9,1037 1880.7,1037 1883.5,1037.1 1886.3,1037.2 1889.2,1037.3 1892,1037.3 1894.8,1037.4 1897.6,1037.5 1900.4,1037.5 1903.2,1037.6 1906.1,1037.7 1908.9,1037.8 1911.7,1037.8 1914.5,1037.9 1917.3,1038 1920.2,1038 1923,1038.1 1925.8,1038.2 1928.6,1038.2 1931.4,1038.3 1934.2,1038.4 1937.1,1038.4 1939.9,1038.5 1942.7,1038.6 1945.5,1038.6 1948.3,1038.7 1951.1,1038.8 1954,1038.8 1956.8,1038.9 1959.6,1039"/>
<polyline stroke="#ff0000" points="1317.2,305.1 1320,315.8 1322.8,326.5 1325.7,337.1 1328.5,347.7 1331.3,358.2 1334.1,368.7 1336.9,379.1 1339.7,389.5 1342.6,399.8 1345.4,410.1 1348.2,420.3 1351,430.4 1353.8,440.5 1356.7,450.5 1359.5,460.5 1362.3,470.4 1365.1,480.2 1367.9,489.9 1370.7,499.6 1373.6,509.2 1376.4,518.7 1379.2,528.1 1382,537.5 1384.8,546.7 1387.6,555.9 1390.5,565 1393.3,574.1 1396.1,583 1398.9,591.8 1401.7,600.6 1404.5,609.2 1407.4,617.8 1410.2,626.2 1413,634.6 1415.8,642.9 1418.6,651 1421.5,659.1 1424.3,667 1427.1,674.9 1429.9,682.6 1432.7,690.2 1435.5,697.7 1438.4,705.1 1441.2,712.5 1444,719.6 1446.8,726.7 1449.6,733.7 1452.4,740.6 1455.3,747.3 1458.1,753.9 1460.9,760.4 1463.7,766.8 1466.5,773.1 1469.3,779.3 1472.2,785.3 1475,791.3 1477.8,797.1 1480.6,802.8 1483.4,808.3 1486.3,813.8 1489.1,819.1 1491.9,824.3 1494.7,829.4 1497.5,834.4 1500.3,839.2 1503.2,844 1506,848.6 1508.8,853.1 1511.6,857.5 1514.4,861.8 1517.2,866 1520.1,870.1 1522.9,874.1 1525.7,878 1528.5,881.7 1531.3,885.4 1534.2,888.9 1537,892.4 1539.8,895.7 1542.6,898.9 1545.4,902.1 1548.2,905.1 1551.1,908.1 1553.9,910.9 1556.7,913.7 1559.5,916.4 1562.3,919 1565.1,921.5 1568,924 1570.8,926.3 1573.6,928.6 1576.4,930.8 1579.2,932.9 1582,935 1584.9,937 1587.7,938.9 1590.5,940.7 1593.3,942.5 1596.1,944.3 1599,945.9 1601.8,947.5 1604.6,949.1 1607.4,950.6 1610.2,952.1 1613,953.5 1615.9,954.8 1618.7,956.1 1621.5,957.4 1624.3,958.6 1627.1,959.7 1629.9,960.9 1632.8,961.9 1635.6,963 1638.4,964 1641.2,964.9 1644,965.8 1646.9,966.7 1649.7,967.5 1652.5,968.3 1655.3,969 1658.1,969.8 1660.9,970.5 1663.8,971.1 1666.6,971.7 1669.4,972.3 1672.2,972.9 1675,973.4 1677.8,974 1680.7,974.4 1683.5,974.9 1686.3,975.3 1689.1,975.8 1691.9,976.1 1694.8,976.5 1697.6,976.9 1700.4,977.2 1703.2,977.5 1706,977.8 1708.8,978.1 1711.7,978.4 1714.5,978.6 1717.3,978.9 1720.1,979.1 1722.9,979.4 1725.7,979.6 1728.6,979.8 1731.4,980 1734.2,980.2 1737,980.4 1739.8,980.6 1742.6,980.7 1745.5,980.9 1748.3,981.1 1751.1,981.3 1753.9,981.5 1756.7,981.6 1759.6,981.8 1762.4,982 1765.2,982.2 1768,982.3 1770.8,982.5 1773.6,982.7 1776.5,982.8 1779.3,983 1782.1,983.1 1784.9,983.3 1787.7,983.4 1790.5,983.6 1793.4,983.7 1796.2,983.9 1799,984 1801.8,984.2 1804.6,984.3 1807.5,984.4 1810.3,984.6 1813.1,984.7 1815.9,984.9 1818.7,985 1821.5,985.1 1824.4,985.2 1827.2,985.4 1830,985.5 1832.8,985.6 1835.6,985.7 1838.4,985.8 1841.3,986 1844.1,986.1 1846.9,986.2 1849.7,986.3 1852.5,986.4 1855.3,986.5 1858.2,986.6 1861,986.7 1863.8,986.8 1866.6,986.9 1869.4,987 1872.3,987.1 1875.1,987.2 1877.9,987.3 1880.7,987.4 1883.5,987.5 1886.3,987.6 1889.2,987.7 1892,987.8 1894.8,987.9 1897.6,988 1900.4,988 1903.2,988.1 1906.1,988.2 1908.9,988.3 1911.7,988.4 1914.5,988.4 1917.3,988.5 1920.2,988.6 1923,988.6 1925.8,988.7 1928.6,988.8 1931.4,988.9 1934.2,988.9 1937.1,989 1939.9,989.1 1942.7,989.1 1945.5,989.2 1948.3,989.2 1951.1,989.3 1954,989.4 1956.8,989.4 1959.6,989.5"/>
<polyline stroke="#00ff00" points="1317.2,413.5 1320,424.5 1322.8,435.4 1325.7,446.1 1328.5,456.9 1331.3,467.5 1334.1,478 1336.9,488.4 1339.7,498.8 1342.6,509 1345.4,519.1 1348.2,529.2 1351,539.1 1353.8,549 1356.7,558.7 1359.5,568.4 1362.3,578 1365.1,587.5 1367.9,596.9 1370.7,606.2 1373.6,615.4 1376.4,624.6 1379.2,633.7 1382,642.7 1384.8,651.6 1387.6,660.4 1390.5,669.1 1393.3,677.8 1396.1,686.3 1398.9,694.8 1401.7,703.2 1404.5,711.5 1407.4,719.7 1410.2,727.8 1413,735.8 1415.8,743.8 1418.6,751.6 1421.5,759.3 1424.3,767 1427.1,774.5 1429.9,781.9 1432.7,789.2 1435.5,796.5 1438.4,803.6 1441.2,810.6 1444,817.5 1446.8,824.3 1449.6,831 1452.4,837.6 1455.3,844.1 1458.1,850.4 1460.9,856.6 1463.7,862.8 1466.5,868.8 1469.3,874.7 1472.2,880.4 1475,886.1 1477.8,891.6 1480.6,897 1483.4,902.3 1486.3,907.5 1489.1,912.5 1491.9,917.4 1494.7,922.2 1497.5,926.9 1500.3,931.4 1503.2,935.9 1506,940.2 1508.8,944.4 1511.6,948.5 1514.4,952.5 1517.2,956.4 1520.1,960.2 1522.9,963.9 1525.7,967.5 1528.5,971 1531.3,974.4 1534.2,977.7 1537,980.9 1539.8,984 1542.6,987 1545.4,989.9 1548.2,992.7 1551.1,995.5 1553.9,998.1 1556.7,1000.7 1559.5,1003.2 1562.3,1005.6 1565.1,1008 1568,1010.2 1570.8,1012.4 1573.6,1014.5 1576.4,1016.5 1579.2,1018.5 1582,1020.4 1584.9,1022.2 1587.7,1024 1590.5,1025.7 1593.3,1027.3 1596.1,1028.9 1599,1030.4 1601.8,1031.9 1604.6,1033.3 1607.4,1034.6 1610.2,1035.9 1613,1037.2 1615.9,1038.4 1618.7,1039.5 1621.5,1040.6 1624.3,1041.7 1627.1,1042.7 1629.9,1043.7 1632.8,1044.6 1635.6,1045.5 1638.4,1046.3 1641.2,1047.2 1644,1048 1646.9,1048.7 1649.7,1049.4 1652.5,1050.1 1655.3,1050.8 1658.1,1051.4 1660.9,1052 1663.8,1052.6 1666.6,1053.1 1669.4,1053.7 1672.2,1054.2 1675,1054.6 1677.8,1055.1 1680.7,1055.5 1683.5,1055.9 1686.3,1056.3 1689.1,1056.6 1691.9,1057 1694.8,1057.3 1697.6,1057.6 1700.4,1057.9 1703.2,1058.2 1706,1058.4 1708.8,1058.6 1711.7,1058.9 1714.5,1059.1 1717.3,1059.3 1720.1,1059.5 1722.9,1059.7 1725.7,1059.8 1728.6,1060 1731.4,1060.1 1734.2,1060.3 1737,1060.4 1739.8,1060.5 1742.6,1060.7 1745.5,1060.8 1748.3,1060.9 1751.1,1061 1753.9,1061.1 1756.7,1061.3 1759.6,1061.4 1762.4,1061.5 1765.2,1061.6 1768,1061.7 1770.8,1061.8 1773.6,1061.9 1776.5,1062 1779.3,1062.1 1782.1,1062.2 1784.9,1062.3 1787.7,1062.4 1790.5,1062.5 1793.4,1062.6 1796.2,1062.7 1799,1062.8 1801.8,1062.9 1804.6,1063 1807.5,1063.1 1810.3,1063.2 1813.1,1063.3 1815.9,1063.3 1818.7,1063.4 1821.5,1063.5 1824.4,1063.6 1827.2,1063.7 1830,1063.7 1832.8,1063.8 1835.6,1063.9 1838.4,1064 1841.3,1064 1844.1,1064.1 1846.9,1064.2 1849.7,1064.3 1852.5,1064.3 1855.3,1064.4 1858.2,1064.5 1861,1064.5 1863.8,1064.6 1866.6,1064.7 1869.4,1064.7 1872.3,1064.8 1875.1,1064.8 1877.9,1064.9 1880.7,1065 1883.5,1065 1886.3,1065.1 1889.2,1065.1 1892,1065.2 1894.8,1065.2 1897.6,1065.3 1900.4,1065.3 1903.2,1065.4 1906.1,1065.4 1908.9,1065.5 1911.7,1065.5 1914.5,1065.6 1917.3,1065.6 1920.2,1065.7 1923,1065.7 1925.8,1065.8 1928.6,1065.8 1931.4,1065.8 1934.2,1065.9 1937.1,1065.9 1939.9,1066 1942.7,1066 1945.5,1066 1948.3,1066.1 1951.1,1066.1 1954,1066.1 1956.8,1066.2 1959.6,1066.2"/>
<polyline stroke="#0000ff" points="1317.2,447.8 1320,458.2 1322.8,468.6 1325.7,478.9 1328.5,489.1 1331.3,499.2 1334.1,509.3 1336.9,519.3 1339.7,529.2 1342.6,539 1345.4,548.8 1348.2,558.4 1351,568 1353.8,577.5 1356.7,586.9 1359.5,596.2 1362.3,605.5 1365.1,614.6 1367.9,623.7 1370.7,632.6 1373.6,641.4 1376.4,650.2 1379.2,658.8 1382,667.4 1384.8,675.8 1387.6,684.2 1390.5,692.4 1393.3,700.6 1396.1,708.6 1398.9,716.5 1401.7,724.4 1404.5,732.1 1407.4,739.7 1410.2,747.2 1413,754.6 1415.8,761.9 1418.6,769.1 1421.5,776.2 1424.3,783.2 1427.1,790.1 1429.9,796.9 1432.7,803.5 1435.5,810.1 1438.4,816.5 1441.2,822.9 1444,829.1 1446.8,835.2 1449.6,841.2 1452.4,847.1 1455.3,852.9 1458.1,858.6 1460.9,864.2 1463.7,869.6 1466.5,875 1469.3,880.2 1472.2,885.3 1475,890.3 1477.8,895.2 1480.6,900 1483.4,904.6 1486.3,909.2 1489.1,913.6 1491.9,917.9 1494.7,922.1 1497.5,926.3 1500.3,930.3 1503.2,934.2 1506,938 1508.8,941.7 1511.6,945.3 1514.4,948.8 1517.2,952.2 1520.1,955.5 1522.9,958.7 1525.7,961.9 1528.5,964.9 1531.3,967.9 1534.2,970.8 1537,973.6 1539.8,976.3 1542.6,979 1545.4,981.5 1548.2,984 1551.1,986.4 1553.9,988.8 1556.7,991 1559.5,993.2 1562.3,995.4 1565.1,997.4 1568,999.5 1570.8,1001.4 1573.6,1003.3 1576.4,1005.1 1579.2,1006.9 1582,1008.6 1584.9,1010.2 1587.7,1011.9 1590.5,1013.4 1593.3,1014.9 1596.1,1016.4 1599,1017.8 1601.8,1019.1 1604.6,1020.4 1607.4,1021.7 1610.2,1022.9 1613,1024.1 1615.9,1025.2 1618.7,1026.3 1621.5,1027.3 1624.3,1028.3 1627.1,1029.3 1629.9,1030.2 1632.8,1031.1 1635.6,1031.9 1638.4,1032.7 1641.2,1033.5 1644,1034.3 1646.9,1035 1649.7,1035.6 1652.5,1036.3 1655.3,1036.9 1658.1,1037.5 1660.9,1038 1663.8,1038.5 1666.6,1039 1669.4,1039.5 1672.2,1040 1675,1040.4 1677.8,1040.8 1680.7,1041.2 1683.5,1041.5 1686.3,1041.9 1689.1,1042.2 1691.9,1042.5 1694.8,1042.8 1697.6,1043 1700.4,1043.3 1703.2,1043.5 1706,1043.7 1708.8,1043.9 1711.7,1044.1 1714.5,1044.3 1717.3,1044.5 1720.1,1044.7 1722.9,1044.8 1725.7,1045 1728.6,1045.1 1731.4,1045.3 1734.2,1045.4 1737,1045.5 1739.8,1045.7 1742.6,1045.8 1745.5,1045.9 1748.3,1046.1 1751.1,1046.2 1753.9,1046.3 1756.7,1046.4 1759.6,1046.5 1762.4,1046.7 1765.2,1046.8 1768,1046.9 1770.8,1047 1773.6,1047.1 1776.5,1047.2 1779.3,1047.4 1782.1,1047.5 1784.9,1047.6 1787.7,1047.7 1790.5,1047.8 1793.4,1047.9 1796.2,1048 1799,1048.1 1801.8,1048.2 1804.6,1048.3 1807.5,1048.4 1810.3,1048.5 1813.1,1048.6 1815.9,1048.7 1818.7,1048.8 1821.5,1048.9 1824.4,1049 1827.2,1049.1 1830,1049.1 1832.8,1049.2 1835.6,1049.3 1838.4,1049.4 1841.3,1049.5 1844.1,1049.6 1846.9,1049.7 1849.7,1049.7 1852.5,1049.8 1855.3,1049.9 1858.2,1050 1861,1050.1 1863.8,1050.1 1866.6,1050.2 1869.4,1050.3 1872.3,1050.4 1875.1,1050.4 1877.9,1050.5 1880.7,1050.6 1883.5,1050.6 1886.3,1050.7 1889.2,1050.8 1892,1050.9 1894.8,1050.9 1897.6,1051 1900.4,1051 1903.2,1051.1 1906.1,1051.2 1908.9,1051.2 1911.7,1051.3 1914.5,1051.4 1917.3,1051.4 1920.2,1051.5 1923,1051.5 1925.8,1051.6 1928.6,1051.6 1931.4,1051.7 1934.2,1051.7 1937.1,1051.8 1939.9,1051.9 1942.7,1051.9 1945.5,1052 1948.3,1052 1951.1,1052.1 1954,1052.1 1956.8,1052.2 1959.6,1052.2"/>
</g>
<g id="inset2-axes" stroke="#000" stroke-width="6" fill="none" shape-rendering="crispEdges">
<path d="M1326 628 V1114"/>
<path d="M1323 631 H1946"/>
<path d="M1323 1111 H1946"/>
<path stroke-linecap="round" d="M1326 1025 H1316 M1326 904 H1316 M1326 783 H1316 M1326 662 H1316 M1413 1111 V1101 M1526 1111 V1101 M1638 1111 V1101 M1751 1111 V1101 M1864 1111 V1101"/>
</g>
<g id="legend" stroke-width="8" stroke-linecap="round" fill="none" shape-rendering="crispEdges">
<path stroke="#000000" d="M331 920 H476"/>
<path stroke="#ff0000" d="M331 1001.2 H476"/>
<path stroke="#00ff00" d="M331 1082.8 H476"/>
<path stroke="#0000ff" d="M331 1164.8 H476"/>
</g>
<g id="legend-text">
<text x="492.06" y="940.8" font-size="66" textLength="151.32" lengthAdjust="spacingAndGlyphs">PA66</text>
<text x="492.67" y="1022.8" font-size="66" textLength="423.22" lengthAdjust="spacingAndGlyphs">MWNTs-SDBS</text>
<text x="492.67" y="1103.8" font-size="66" textLength="457.15" lengthAdjust="spacingAndGlyphs">MWNTs-COOH</text>
<text x="491.48" y="1186.2" font-size="66" textLength="308.72" lengthAdjust="spacingAndGlyphs">U-MWNTs</text>
</g>
<g id="ytick-labels">
<text x="237.83" y="1259.2" font-size="67" textLength="32.73" lengthAdjust="spacingAndGlyphs">0</text>
<text x="205.1" y="1038.7" font-size="67" textLength="65.46" lengthAdjust="spacingAndGlyphs">20</text>
<text x="205.1" y="818.2" font-size="67" textLength="65.46" lengthAdjust="spacingAndGlyphs">40</text>
<text x="205.1" y="597.7" font-size="67" textLength="65.46" lengthAdjust="spacingAndGlyphs">60</text>
<text x="205.1" y="377.2" font-size="67" textLength="65.46" lengthAdjust="spacingAndGlyphs">80</text>
<text x="172.37" y="156.7" font-size="67" textLength="98.19" lengthAdjust="spacingAndGlyphs">100</text>
</g>
<g id="xtick-labels">
<text x="260.76" y="1331.5" font-size="67" textLength="98.49" lengthAdjust="spacingAndGlyphs">350</text>
<text x="589.78" y="1331.5" font-size="67" textLength="98.49" lengthAdjust="spacingAndGlyphs">400</text>
<text x="917.98" y="1331.5" font-size="67" textLength="98.49" lengthAdjust="spacingAndGlyphs">450</text>
<text x="1245.27" y="1331.5" font-size="67" textLength="98.49" lengthAdjust="spacingAndGlyphs">500</text>
<text x="1573.47" y="1331.5" font-size="67" textLength="98.49" lengthAdjust="spacingAndGlyphs">550</text>
<text x="1901.84" y="1331.5" font-size="67" textLength="98.49" lengthAdjust="spacingAndGlyphs">600</text>
</g>
<g id="inset1-labels">
<text x="1283.18" y="580.6" font-size="31.5" textLength="31.18" lengthAdjust="spacingAndGlyphs">75</text>
<text x="1283.18" y="474.23" font-size="31.5" textLength="31.18" lengthAdjust="spacingAndGlyphs">80</text>
<text x="1283.18" y="367.85" font-size="31.5" textLength="31.18" lengthAdjust="spacingAndGlyphs">85</text>
<text x="1283.18" y="261.48" font-size="31.5" textLength="31.18" lengthAdjust="spacingAndGlyphs">90</text>
<text x="1283.18" y="155.1" font-size="31.5" textLength="31.18" lengthAdjust="spacingAndGlyphs">95</text>
<text x="1269.43" y="48.73" font-size="31.5" textLength="44.89" lengthAdjust="spacingAndGlyphs">100</text>
<text x="1454.35" y="608.9" font-size="31.5" textLength="46.3" lengthAdjust="spacingAndGlyphs">380</text>
<text x="1643.28" y="608.9" font-size="31.5" textLength="46.3" lengthAdjust="spacingAndGlyphs">400</text>
<text x="1831.83" y="608.9" font-size="31.5" textLength="46.3" lengthAdjust="spacingAndGlyphs">420</text>
</g>
<g id="inset2-labels">
<text x="1295.43" y="1033.85" font-size="31.5" textLength="15.75" lengthAdjust="spacingAndGlyphs">5</text>
<text x="1279.68" y="912.8" font-size="31.5" textLength="31.5" lengthAdjust="spacingAndGlyphs">10</text>
<text x="1279.68" y="791.75" font-size="31.5" textLength="31.5" lengthAdjust="spacingAndGlyphs">15</text>
<text x="1279.68" y="670.7" font-size="31.5" textLength="31.5" lengthAdjust="spacingAndGlyphs">20</text>
<text x="1390.43" y="1145.1" font-size="31.5" textLength="46.3" lengthAdjust="spacingAndGlyphs">460</text>
<text x="1503.13" y="1145.1" font-size="31.5" textLength="46.3" lengthAdjust="spacingAndGlyphs">470</text>
<text x="1615.83" y="1145.1" font-size="31.5" textLength="46.3" lengthAdjust="spacingAndGlyphs">480</text>
<text x="1728.53" y="1145.1" font-size="31.5" textLength="46.3" lengthAdjust="spacingAndGlyphs">490</text>
<text x="1840.81" y="1145.1" font-size="31.5" textLength="46.3" lengthAdjust="spacingAndGlyphs">500</text>
</g>
<g id="axis-titles">
<text transform="translate(79 953.14) rotate(-90)" x="0" y="0" font-size="72" textLength="549" lengthAdjust="spacingAndGlyphs">Mass fraction (%)</text>
<text y="1445.8" font-size="72"><tspan x="866.55" textLength="395.45" lengthAdjust="spacingAndGlyphs">Temperature</tspan><tspan x="1260.58 1278.58 1301.74 1327.53 1372.29"> (°C)</tspan></text>
</g>
</svg></body></html>
